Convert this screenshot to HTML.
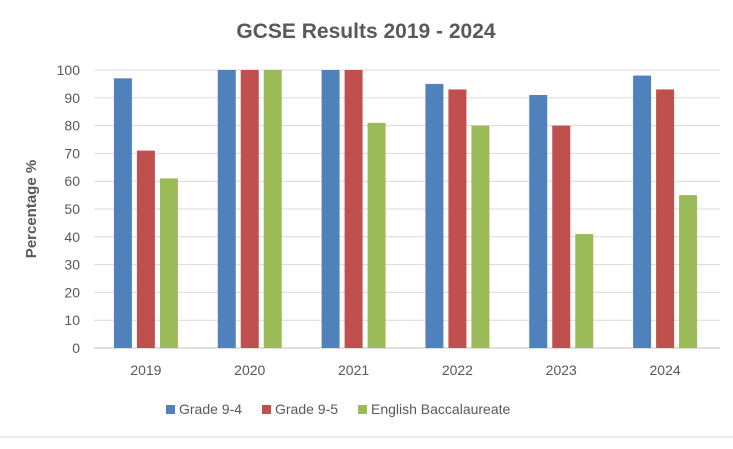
<!DOCTYPE html>
<html><head><meta charset="utf-8"><style>
body{margin:0;background:#fff;width:733px;height:444px;overflow:hidden;font-family:"Liberation Sans",sans-serif}
</style></head><body>
<svg width="733" height="444" xmlns="http://www.w3.org/2000/svg">
<text x="366" y="38" text-anchor="middle" font-size="21" font-weight="bold" fill="#595959">GCSE Results 2019 - 2024</text>
<text transform="translate(36,209) rotate(-90)" text-anchor="middle" font-size="15" font-weight="bold" fill="#595959">Percentage %</text>
<g id="grid"></g><g id="bars"></g><g id="labels"></g>
<line x1="0" y1="437" x2="733" y2="437" stroke="#d9d9d9"/>
<g font-size="14" fill="#595959">
<rect x="166" y="405" width="9" height="9" fill="#4f81bd"/>
<text x="179" y="414">Grade 9-4</text>
<rect x="262" y="405" width="9" height="9" fill="#c0504d"/>
<text x="275" y="414">Grade 9-5</text>
<rect x="358" y="405" width="9" height="9" fill="#9bbb59"/>
<text x="371" y="414">English Baccalaureate</text>
</g>
</svg>
<script>
const categories=["2019","2020","2021","2022","2023","2024"];
const grade94=[97,100,100,95,91,98];
const grade95=[71,100,100,93,80,93];
const ebacc=[61,100,81,80,41,55];
const yTicks=[0,10,20,30,40,50,60,70,80,90,100];
const seriesNames=["grade-9-4","grade-9-5","ebacc"];
const colors=["#4f81bd","#c0504d","#9bbb59"];
const NS="http://www.w3.org/2000/svg";
const x0=94,x1=717,y0=348,y100=70;
const bw=(x1-x0)/categories.length;
function yS(v){return y0-(y0-y100)*v/100;}
function xC(i){return x0+bw*(i+0.5);}
function mk(t,a,p){const e=document.createElementNS(NS,t);for(const k in a)e.setAttribute(k,a[k]);document.getElementById(p).appendChild(e);return e;}
yTicks.forEach(v=>{
 const l=mk('line',{x1:x0,x2:720,y1:yS(v),y2:yS(v),stroke:v===0?'#bfbfbf':'#d9d9d9'},'grid');
 
 
 const t=mk('text',{x:80,y:yS(v)+5,'text-anchor':'end','font-size':14,fill:'#595959'},'labels');
 t.textContent=v;
 
 
});
[grade94,grade95,ebacc].forEach((s,si)=>{
 s.forEach((v,i)=>{
  const w=18,gap=23;
  const cx=xC(i)+(si-1)*gap;
  const r=mk('rect',{x:cx-w/2,y:yS(v),width:w,height:y0-yS(v),fill:colors[si]},'bars');
  
  
 });
});
categories.forEach((c,i)=>{
 const t=mk('text',{x:xC(i),y:375,'text-anchor':'middle','font-size':14,fill:'#595959'},'labels');
 t.textContent=c;
 
 
});
</script>
</body></html>
